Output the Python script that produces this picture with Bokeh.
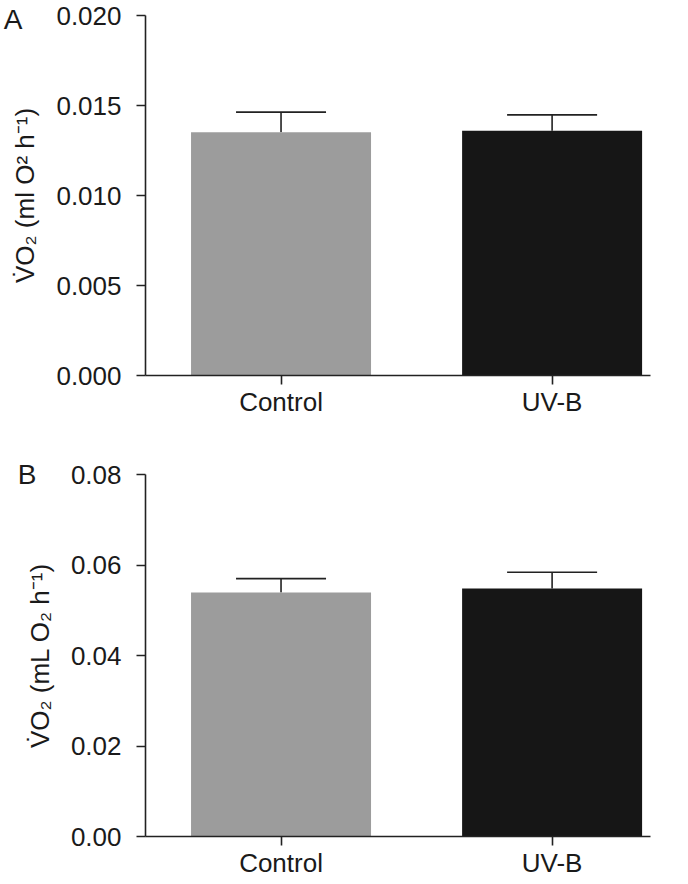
from bokeh.plotting import figure
from bokeh.layouts import column
from bokeh.models import Range1d, FixedTicker, LinearAxis, ColumnDataSource
from bokeh.embed import file_html
from bokeh.resources import INLINE

categories = ["Control", "UV-B"]
bar_colors = ["#9c9c9c", "#161616"]

a_means = [0.01352, 0.01360]
a_errors = [0.00111, 0.00088]
a_ticks = [0.000, 0.005, 0.010, 0.015, 0.020]

b_means = [0.0539, 0.0548]
b_errors = [0.0031, 0.0036]
b_ticks = [0.00, 0.02, 0.04, 0.06, 0.08]

FONT = "Liberation Sans"
positions = [i + 0.5 for i in range(len(categories))]


def make_panel(means, errors, ticks, ymax, fmt, ylabel, letter, letter_y,
               frame_h, b_top, b_bottom):
    p = figure(width=688, frame_width=505, frame_height=frame_h,
               x_range=Range1d(0, 1.863), y_range=Range1d(0, ymax),
               output_backend="svg", toolbar_location=None,
               min_border_left=145, min_border_right=38,
               min_border_top=b_top, min_border_bottom=b_bottom)
    p.outline_line_color = None
    p.grid.visible = False
    src = ColumnDataSource(dict(x=positions, top=means, color=bar_colors,
                                hi=[m + e for m, e in zip(means, errors)],
                                x0=[x - 0.166 for x in positions],
                                x1=[x + 0.166 for x in positions]))
    p.segment(x0="x", y0="top", x1="x", y1="hi", source=src,
              line_color="#222222", line_width=1.6)
    p.segment(x0="x0", y0="hi", x1="x1", y1="hi", source=src,
              line_color="#222222", line_width=1.6)
    p.vbar(x="x", top="top", bottom=0, width=0.664, color="color",
           line_color=None, source=src)

    p.xaxis.ticker = FixedTicker(ticks=positions)
    p.xaxis.major_label_overrides = {pos: c for pos, c in zip(positions, categories)}
    p.yaxis.ticker = FixedTicker(ticks=ticks)
    p.yaxis.major_label_overrides = {t: fmt.format(t) for t in ticks}
    for ax in (p.xaxis[0], p.yaxis[0]):
        ax.axis_line_color = "#222222"
        ax.axis_line_width = 1.6
        ax.major_tick_line_color = "#222222"
        ax.major_tick_line_width = 1.6
        ax.major_tick_in = 0
        ax.major_tick_out = 9
        ax.minor_tick_line_color = None
        ax.major_label_text_font = FONT
        ax.major_label_text_color = "#1a1a1a"
    p.xaxis.major_label_text_font_size = "26px"
    p.xaxis.major_label_standoff = 2
    p.yaxis.major_label_text_font_size = "26px"
    p.yaxis.major_label_standoff = 15
    p.yaxis.axis_label = ylabel
    p.yaxis.axis_label_text_font = FONT
    p.yaxis.axis_label_text_font_size = "26px"
    p.yaxis.axis_label_text_font_style = "normal"
    p.yaxis.axis_label_text_color = "#1a1a1a"
    p.yaxis.axis_label_standoff = 13

    # panel letter, drawn as the single label of an outer, bare left axis
    letter_axis = LinearAxis(ticker=FixedTicker(ticks=[letter_y]),
                             major_label_overrides={letter_y: letter},
                             axis_line_color=None, major_tick_line_color=None,
                             minor_tick_line_color=None,
                             major_tick_in=0, major_tick_out=0,
                             major_label_standoff=-15,
                             major_label_text_font=FONT,
                             major_label_text_font_size="28px",
                             major_label_text_color="#1a1a1a")
    p.add_layout(letter_axis, "left")
    return p


pa = make_panel(a_means, a_errors, a_ticks, 0.020, "{:.3f}",
                "V\u0307O\u2082 (ml O\u00b2 h\u207b\u00b9)", "A", 0.01978,
                360, 15, 73)
pb = make_panel(b_means, b_errors, b_ticks, 0.08, "{:.2f}",
                "V\u0307O\u2082 (mL O\u2082 h\u207b\u00b9)", "B", 0.0799,
                362, 26, 46)

layout = column(pa, pb, spacing=0)
open("out.html", "w").write(file_html(layout, INLINE))
